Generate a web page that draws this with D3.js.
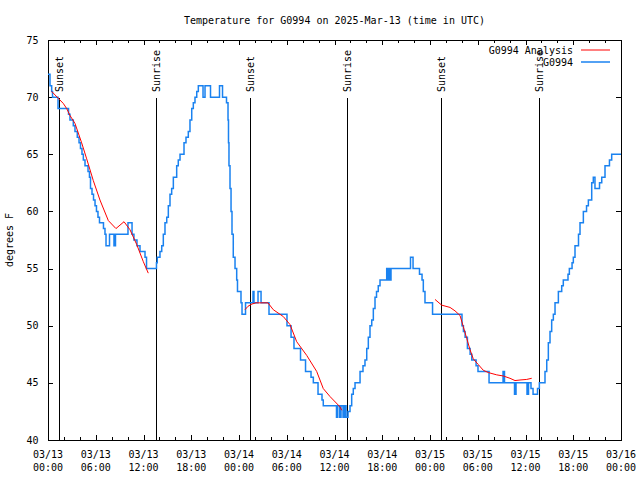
<!DOCTYPE html>
<html>
<head>
<meta charset="utf-8">
<script src="https://cdn.jsdelivr.net/npm/d3@7"></script>
<style>
body { margin: 0; background: #fff; }
text { font-family: "DejaVu Sans Mono", "Liberation Mono", monospace; font-size: 10px; fill: #000; }
</style>
</head>
<body>
<svg id="chart" width="640" height="480"></svg>
<script>
// ---- data (hours after 2025-03-13 00:00 UTC) ----
const obsHours = [0.00,0.25,0.46,0.57,1.26,2.58,2.76,3.18,3.39,3.68,3.90,4.08,4.27,4.44,4.65,5.03,5.21,5.34,5.53,5.72,5.91,6.09,6.28,6.47,6.97,7.16,7.29,7.73,8.29,8.48,10.05,10.56,10.80,11.18,11.56,12.19,12.38,13.63,13.73,14.07,14.29,14.49,14.70,14.92,15.12,15.33,15.54,15.75,16.17,16.37,16.59,17.09,17.34,17.63,17.84,18.06,18.26,18.47,18.69,18.89,19.48,19.73,20.42,21.55,21.93,22.43,22.62,22.68,22.74,22.87,23.00,23.12,23.28,23.50,23.71,23.81,24.25,24.38,24.82,25.76,25.88,26.39,26.77,27.77,30.03,30.54,30.91,31.73,32.36,33.05,33.34,33.93,34.43,34.59,36.25,36.38,36.63,36.82,37.07,37.26,37.45,37.70,37.95,38.16,38.36,38.58,39.21,39.58,39.83,40.05,40.25,40.46,40.68,40.88,41.09,41.28,41.50,41.72,42.56,42.69,42.81,42.91,43.10,45.55,45.87,46.68,47.00,47.16,47.37,48.32,52.02,52.20,52.41,52.70,53.04,53.25,53.79,54.03,55.42,57.18,57.36,58.62,58.81,60.19,60.38,60.69,60.95,61.51,61.74,62.45,62.67,62.87,63.08,63.29,63.50,63.71,64.13,64.55,64.75,65.34,65.51,65.85,66.01,66.22,66.66,66.85,67.27,67.67,67.90,68.32,68.52,68.73,69.30,69.58,69.99,70.55,70.83,72.00];
const obsTemps = [72,71,70.5,70,69,68.5,68,67.5,67,66.5,66,65.5,65,64.5,64,63.5,63,62,61.5,61,60.5,60,59.5,59,58.5,58,57,58,57,58,59,58,57.5,57,56.5,56,55,55.5,56,56.5,57,58,59,59.5,60.5,61.5,62,63,64,64.5,65,66,66.5,67,68,69,69.5,70,70.5,71,70,71,70,71,70,69.5,68,66,64,62,60,58,56,55,54,53,52,51,52,53,52,53,52,51,50,49,48,47,46,45.5,45,44,43.5,43,42,43,42,43,42,43,42,42.5,43,44,44.5,45,46,46.5,47,48,49,50,50.5,51.5,52.5,53,53.5,54,55,54,55,54,55,56,55,54.5,54,53,52,51,50,49.5,49,48,47.5,47,46.5,46,45,46,45,44,45,44,45,44.5,44,44.5,45,46,47,48.5,49.5,50.5,51,52,53,53.5,54,54.5,55,55.5,56,57,58,59,60,60.5,61,62.5,63,62,62.5,63,64,64.5,65,65];

const anaHours = [0.46,1.29,1.92,2.35,2.76,3.39,4.23,4.86,5.69,6.53,7.58,8.54,9.55,10.30,11.15,11.98,12.60,null,
  24.75,25.13,25.63,26.14,27.64,28.31,29.57,30.41,31.25,32.51,33.76,34.59,35.44,36.69,36.91,null,
  48.63,49.47,50.52,51.14,51.77,52.19,52.61,53.03,53.44,54.07,54.70,55.33,56.38,57.22,58.05,58.68,59.31,60.15,60.78];
const anaTemps = [70.5,69.9,69.45,69.0,68.4,67.7,66.0,64.6,62.7,61.0,59.2,58.5,59.1,58.4,57.1,55.6,54.6,null,
  51.4,51.7,51.9,52.0,52.0,51.4,50.8,50.1,48.6,47.4,46.0,44.5,43.8,42.9,42.6,null,
  52.3,51.8,51.6,51.3,50.9,49.9,48.9,47.9,47.1,46.6,46.1,45.9,45.7,45.6,45.4,45.2,45.25,45.3,45.4];

const sunHours = [1.38, 13.57, 25.38, 37.57, 49.38, 61.70];
const sunLabels = ["Sunset", "Sunrise", "Sunset", "Sunrise", "Sunset", "Sunrise"];

const yTicks = [40, 45, 50, 55, 60, 65, 70, 75];
const seriesNames = ["G0994 Analysis", "G0994"];
const titleText = "Temperature for G0994 on 2025-Mar-13 (time in UTC)";
const yLabel = "degrees F";

// ---- layout ----
const t0 = Date.UTC(2025, 2, 13);
const toDate = h => new Date(t0 + h * 3600e3);
const L = 48, R = 621, T = 40, B = 440;
const svg = d3.select("#chart");
svg.append("rect").attr("width", 640).attr("height", 480).attr("fill", "#fff");

const x = d3.scaleUtc().domain([toDate(0), toDate(72)]).range([L, R]);
const y = d3.scaleLinear().domain([40, 75]).range([B, T]);

const fmtDay = d3.utcFormat("%m/%d"), fmtTime = d3.utcFormat("%H:%M");
const majorTicks = x.ticks(d3.utcHour.every(6));
const minorTicks = x.ticks(d3.utcHour.every(2)).filter(d => d.getUTCHours() % 6 !== 0);

const g = svg.append("g").attr("shape-rendering", "crispEdges");
// ticks
majorTicks.forEach(d => {
  const px = Math.round(x(d)) + 0.5;
  g.append("line").attr("x1", px).attr("x2", px).attr("y1", B).attr("y2", B - 5).attr("stroke", "#000");
  g.append("line").attr("x1", px).attr("x2", px).attr("y1", T).attr("y2", T + 5).attr("stroke", "#000");
  const t = svg.append("text").attr("text-anchor", "middle");
  t.append("tspan").attr("x", x(d)).attr("y", 457.5).text(fmtDay(d));
  t.append("tspan").attr("x", x(d)).attr("y", 471).text(fmtTime(d));
});
minorTicks.forEach(d => {
  const px = Math.round(x(d)) + 0.5;
  g.append("line").attr("x1", px).attr("x2", px).attr("y1", B).attr("y2", B - 3).attr("stroke", "#000");
  g.append("line").attr("x1", px).attr("x2", px).attr("y1", T).attr("y2", T + 3).attr("stroke", "#000");
});
yTicks.forEach(v => {
  const py = Math.round(y(v)) + 0.5;
  g.append("line").attr("x1", L).attr("x2", L + 5).attr("y1", py).attr("y2", py).attr("stroke", "#000");
  g.append("line").attr("x1", R).attr("x2", R - 5).attr("y1", py).attr("y2", py).attr("stroke", "#000");
  svg.append("text").attr("x", 38.5).attr("y", y(v) + 3.5).attr("text-anchor", "end").text(v);
});

// sunrise / sunset lines
sunHours.forEach((h, i) => {
  const px = Math.round(x(toDate(h))) + 0.5;
  g.append("line").attr("x1", px).attr("x2", px).attr("y1", y(70) + 1).attr("y2", B).attr("stroke", "#000");
  svg.append("text").attr("transform", `translate(${px + 3.5},92) rotate(-90)`).attr("text-anchor", "start").text(sunLabels[i]);
});

// series
const obs = obsHours.map((h, i) => [toDate(h), obsTemps[i]]);
const ana = anaHours.map((h, i) => [h === null ? null : toDate(h), anaTemps[i]]);

svg.append("path").datum(obs)
  .attr("d", d3.line().x(d => x(d[0])).y(d => y(d[1])).curve(d3.curveStepAfter))
  .attr("fill", "none").attr("stroke", "#1a82f0").attr("stroke-width", 1.5);
svg.append("path").datum(ana)
  .attr("d", d3.line().defined(d => d[0] !== null).x(d => x(d[0])).y(d => y(d[1])))
  .attr("fill", "none").attr("stroke", "#ff0000").attr("stroke-width", 1);

// border
g.append("rect").attr("x", L + 0.5).attr("y", T + 0.5).attr("width", R - L).attr("height", B - T)
  .attr("fill", "none").attr("stroke", "#000");

// legend
const legColors = ["#ff0000", "#1a82f0"];
seriesNames.forEach((n, i) => {
  svg.append("text").attr("x", 573).attr("y", 54 + i * 12).attr("text-anchor", "end").text(n);
  svg.append("line").attr("x1", 581).attr("x2", 610).attr("y1", 50 + i * 12).attr("y2", 50 + i * 12)
    .attr("stroke", legColors[i]).attr("stroke-width", i === 0 ? 1 : 1.5);
});

// titles
svg.append("text").attr("x", (L + R) / 2).attr("y", 23.5).attr("text-anchor", "middle").text(titleText);
svg.append("text").attr("transform", "translate(13,240) rotate(-90)").attr("text-anchor", "middle").text(yLabel);
</script>
</body>
</html>
